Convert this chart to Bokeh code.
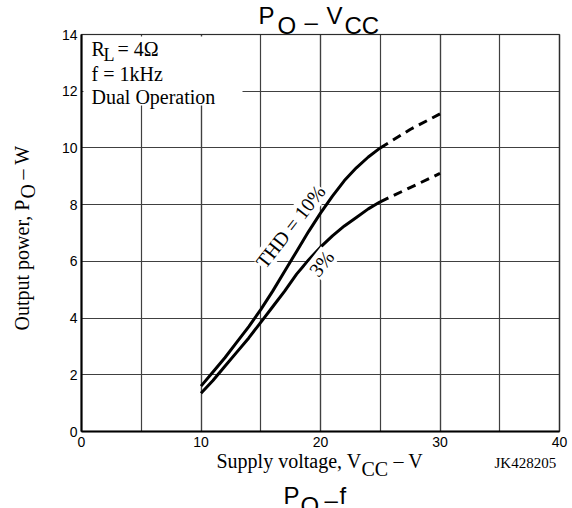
from bokeh.plotting import figure
from bokeh.models import Range1d, SingleIntervalTicker, Label, BoxAnnotation, LinearAxis
from bokeh.embed import file_html
from bokeh.resources import INLINE

# ---- data ----
vcc = [10, 11, 12, 13, 14, 15, 16, 17, 18, 19, 20, 21, 22, 23, 24, 25]
po_thd10 = [1.6, 2.1, 2.6, 3.15, 3.7, 4.3, 4.95, 5.65, 6.35, 7.05, 7.7, 8.3, 8.85, 9.3, 9.68, 10.0]
po_thd3 = [1.35, 1.8, 2.3, 2.8, 3.3, 3.85, 4.4, 4.95, 5.55, 6.05, 6.5, 6.9, 7.25, 7.55, 7.85, 8.1]
vcc_ext = [25, 27.5, 30]
po_thd10_ext = [10.0, 10.65, 11.2]
po_thd3_ext = [8.1, 8.6, 9.1]
x_bounds = (0, 40)
y_bounds = (0, 14)
x_tick_step = 10
y_tick_step = 2

SERIF = "Liberation Serif"
SANS = "Liberation Sans"

# geometry: picture pixels of the plot box
W, H = 572, 508
PL, PR, PT, PB = 81, 559, 34, 431


def dx(px):
    return x_bounds[0] + (px - PL) * (x_bounds[1] - x_bounds[0]) / (PR - PL)


def dy(py):
    return y_bounds[0] + (PB - py) * (y_bounds[1] - y_bounds[0]) / (PB - PT)


p = figure(width=W, height=H, min_border=0,
           x_range=Range1d(dx(0), dx(W)), y_range=Range1d(dy(H), dy(0)),
           x_axis_location=None, y_axis_location=None,
           output_backend="svg", toolbar_location=None)
p.background_fill_color = "white"
p.border_fill_color = "white"
p.outline_line_color = None

xt = SingleIntervalTicker(interval=x_tick_step, num_minor_ticks=2)
yt = SingleIntervalTicker(interval=y_tick_step, num_minor_ticks=0)

xaxis = LinearAxis(ticker=xt, fixed_location=y_bounds[0], bounds=x_bounds)
yaxis = LinearAxis(ticker=yt, fixed_location=x_bounds[0], bounds=y_bounds)
for ax in (xaxis, yaxis):
    ax.axis_line_color = "black"
    ax.axis_line_width = 2
    ax.major_tick_in = 0
    ax.major_tick_out = 0
    ax.minor_tick_in = 0
    ax.minor_tick_out = 0
    ax.major_label_text_font = SANS
    ax.major_label_text_font_size = "14px"
    ax.major_label_text_color = "black"
xaxis.major_label_standoff = 5
yaxis.major_label_standoff = 4
p.add_layout(xaxis, "below")
p.add_layout(yaxis, "left")

p.xgrid.ticker = xt
p.ygrid.ticker = yt
p.xgrid.bounds = x_bounds
p.ygrid.bounds = y_bounds
p.xgrid.cross_bounds = y_bounds
p.ygrid.cross_bounds = x_bounds
p.xgrid.grid_line_color = "#404040"
p.xgrid.grid_line_width = 1.2
p.xgrid.minor_grid_line_color = "#404040"
p.xgrid.minor_grid_line_width = 1.2
p.ygrid.grid_line_color = "#404040"
p.ygrid.grid_line_width = 1.2

# white mask behind the condition text box
mask = BoxAnnotation(left=dx(83), right=dx(242), bottom=dy(105), top=dy(36),
                     fill_color="white", fill_alpha=1.0, line_color=None, level="underlay")
p.add_layout(mask)

# plot box outline
box = BoxAnnotation(left=x_bounds[0], right=x_bounds[1], bottom=y_bounds[0], top=y_bounds[1],
                    fill_alpha=0, line_color="black", line_width=1.5)
p.add_layout(box)

# curves
p.line(vcc, po_thd10, line_color="black", line_width=3)
p.line(vcc, po_thd3, line_color="black", line_width=3)
p.line(vcc_ext, po_thd10_ext, line_color="black", line_width=3, line_dash="9 6")
p.line(vcc_ext, po_thd3_ext, line_color="black", line_width=3, line_dash="9 6")

K = 0.3  # baseline correction, in em


def lab(text, px, py, size, font, angle=0, align="left", baseline="alphabetic", bg=None):
    if baseline == "alphabetic":
        if angle == 90:
            px -= K * size
        else:
            py -= K * size
    l = Label(x=dx(px), y=dy(py), text=text, text_font=font,
              text_font_size=f"{size}px", text_align=align, text_baseline=baseline,
              angle=angle, angle_units="deg", text_color="black")
    if bg:
        l.background_fill_color = bg
    p.add_layout(l)


# title
lab("P", 258, 22, 24, SANS)
lab("O", 277, 32, 24, SANS)
lab("\u2013", 304, 28, 24, SANS)
lab("V", 326, 22, 24, SANS)
lab("CC", 344, 32, 24, SANS)

# conditions
lab("R", 91, 54, 20, SERIF)
lab("L", 103, 60, 18, SERIF)
lab("= 4\u03a9", 117, 54, 20, SERIF)
lab("f = 1kHz", 91, 79, 20, SERIF)
lab("Dual Operation", 91, 102, 20, SERIF)

# curve labels
lab("THD = 10%", 290, 226, 20, SERIF, angle=52, align="center", baseline="middle", bg="white")
lab("3%", 321, 263, 20, SERIF, angle=52, align="center", baseline="middle", bg="white")

# x axis label
lab("Supply voltage, V", 216, 466, 20, SERIF)
lab("CC", 361, 474, 20, SERIF)
lab("\u2013 V", 393, 466, 20, SERIF)
lab("JK428205", 494, 467, 15, SERIF)

# y axis label (rotated)
lab("Output power, P", 27, 330, 20, SERIF, angle=90)
lab("O", 33, 198, 20, SERIF, angle=90)
lab("\u2013 W", 27, 179, 20, SERIF, angle=90)

# next chart title (cut by the page)
lab("P", 283, 502, 24, SANS)
lab("O", 300, 512, 24, SANS)
lab("\u2013", 324, 506, 24, SANS)
lab("f", 339, 502, 24, SANS)

open("out.html", "w").write(file_html(p, INLINE))
